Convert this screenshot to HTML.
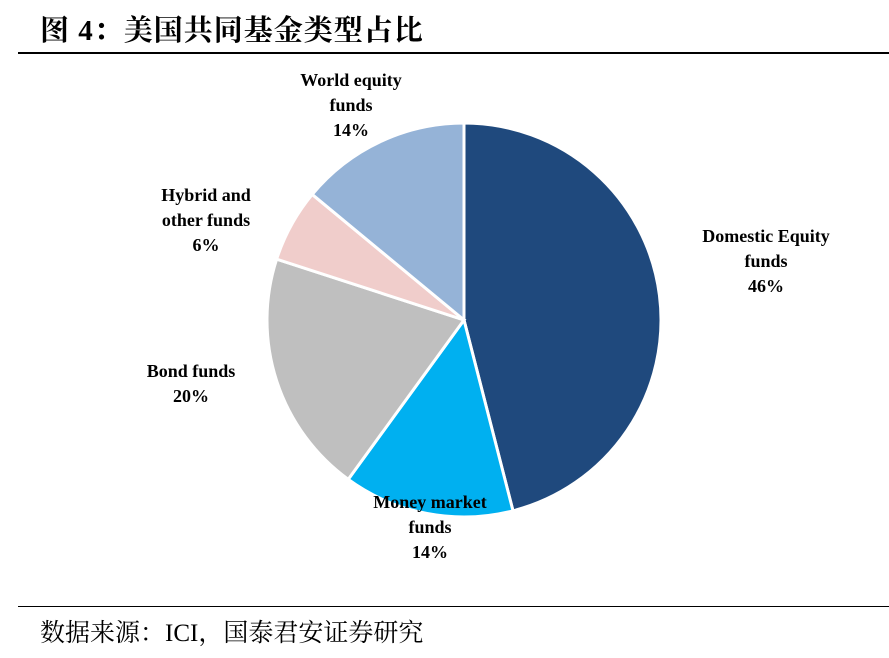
<!DOCTYPE html>
<html><head><meta charset="utf-8"><style>
body{margin:0;background:#fff;width:889px;height:658px;overflow:hidden;position:relative;font-family:"Liberation Serif","Noto Serif CJK SC",serif}
.t{position:absolute;left:40px;top:8px;font-size:29px;font-weight:bold;letter-spacing:1px;white-space:nowrap}
.l1{position:absolute;left:18px;top:52px;width:871px;height:2px;background:#000}
.l2{position:absolute;left:18px;top:606px;width:871px;height:1px;background:#000}
.f{position:absolute;left:40px;top:613px;font-size:25px;white-space:nowrap}
svg text{font-family:"Liberation Serif",serif;font-weight:bold;font-size:18px;text-anchor:middle}
</style></head><body>
<div class="t">图 4：美国共同基金类型占比</div>
<div class="l1"></div>
<svg id="pie" width="889" height="658" style="position:absolute;left:0;top:0"></svg>
<div class="l2"></div>
<div class="f">数据来源：ICI，国泰君安证券研究</div>
<script>
const categories=["Domestic Equity funds","Money market funds","Bond funds","Hybrid and other funds","World equity funds"];
const values=[46,14,20,6,14];
const colors=["#1F497D","#00B0F0","#BFBFBF","#F0CDCB","#95B3D7"];
const labelLines=[["Domestic Equity","funds"],["Money market","funds"],["Bond funds"],["Hybrid and","other funds"],["World equity","funds"]];
const labelPos=[[766,242],[430,508],[191,377],[206,201],[351,86]];
const svg=document.getElementById('pie');
const NS="http://www.w3.org/2000/svg";
const cx=464,cy=320,r=197;
const total=values.reduce((a,b)=>a+b,0);
let acc=0;
function pt(f){const a=f*2*Math.PI;return [cx+r*Math.sin(a),cy-r*Math.cos(a)];}
values.forEach((v,i)=>{
 const s=acc/total,e=(acc+v)/total;acc+=v;
 const p0=pt(s),p1=pt(e);
 const p=document.createElementNS(NS,'path');
 p.setAttribute('d',`M${cx},${cy}L${p0[0]},${p0[1]}A${r},${r} 0 ${e-s>0.5?1:0} 1 ${p1[0]},${p1[1]}Z`);
 p.setAttribute('fill',colors[i]);p.setAttribute('stroke','#fff');p.setAttribute('stroke-width','3');
 
 
 svg.appendChild(p);
});
values.forEach((v,i)=>{
 const t=document.createElementNS(NS,'text');
 
 
 const lines=labelLines[i].concat([v+'%']);
 lines.forEach((ln,j)=>{
  const ts=document.createElementNS(NS,'tspan');
  ts.setAttribute('x',labelPos[i][0]);ts.setAttribute('y',labelPos[i][1]+j*25);
  ts.textContent=ln;t.appendChild(ts);
 });
 svg.appendChild(t);
});
</script>
</body></html>
